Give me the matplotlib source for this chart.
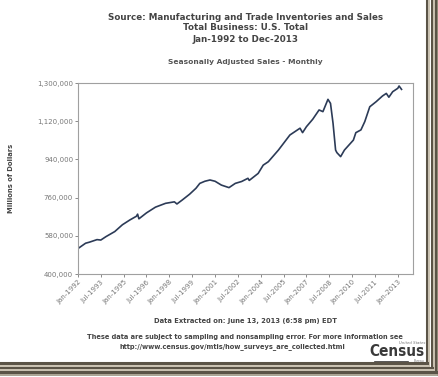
import pandas as pd
import matplotlib
matplotlib.use("Agg")
import matplotlib.pyplot as plt
from matplotlib.ticker import FuncFormatter
from matplotlib.lines import Line2D

# values (millions of dollars)
months = ["1992-01", "1992-07", "1992-10", "1993-04", "1993-07", "1993-11",
          "1994-06", "1994-12", "1995-06", "1995-11", "1995-12", "1996-01",
          "1996-07", "1997-02", "1997-10", "1998-05", "1998-07", "1998-11",
          "1999-05", "1999-10", "2000-01", "2000-05", "2000-09", "2001-01",
          "2001-06", "2001-12", "2002-05", "2002-10", "2003-03", "2003-04",
          "2003-11", "2004-03", "2004-07", "2005-03", "2005-12", "2006-08",
          "2006-10", "2007-01", "2007-06", "2007-11", "2008-02", "2008-06",
          "2008-08", "2008-10", "2008-12", "2009-01", "2009-04", "2009-07",
          "2010-02", "2010-04", "2010-08", "2010-11", "2011-03", "2011-08",
          "2012-01", "2012-04", "2012-06", "2012-09", "2013-01", "2013-02",
          "2013-04"]
sales = [520000, 545000, 550000, 562000, 560000, 576000,
         600000, 632000, 655000, 672000, 682000, 660000,
         688000, 715000, 733000, 740000, 730000, 748000,
         776000, 804000, 827000, 837000, 843000, 837000,
         819000, 807000, 827000, 836000, 851000, 841000,
         874000, 913000, 929000, 984000, 1055000, 1087000,
         1066000, 1094000, 1129000, 1173000, 1165000, 1223000,
         1204000, 1110000, 984000, 972000, 953000, 984000,
         1031000, 1066000, 1079000, 1118000, 1188000, 1212000,
         1239000, 1251000, 1233000, 1259000, 1275000, 1286000,
         1270000]

y_ticks = [400000, 580000, 760000, 940000, 1120000, 1300000]
x_tick_labels = ["Jan-1992", "Jul-1993", "Jan-1995", "Jul-1996", "Jan-1998",
                 "Jul-1999", "Jan-2001", "Jul-2002", "Jan-2004", "Jul-2005",
                 "Jan-2007", "Jul-2008", "Jan-2010", "Jul-2011", "Jan-2013"]

dates = pd.to_datetime(months)
tick_dates = pd.to_datetime(x_tick_labels, format="%b-%Y")

W, H = 439, 377
fig = plt.figure(figsize=(W / 100, H / 100), dpi=100)
fig.patch.set_facecolor("white")
plt.rcParams['font.family'] = ['DejaVu Sans']

txt = "#444444"
ax = fig.add_axes([78 / W, 1 - 274 / H, (413 - 78) / W, (274 - 83) / H])
ax.plot(dates, sales, color="#2c3b57", linewidth=1.2)
ax.set_ylim(400000, 1300000)
ax.set_xlim(pd.Timestamp("1992-01-01"), pd.Timestamp("2014-01-01"))
ax.set_yticks(y_ticks)
ax.yaxis.set_major_formatter(FuncFormatter(lambda v, p: f"{int(v):,}"))
ax.set_xticks(tick_dates)
ax.set_xticklabels(x_tick_labels, rotation=45, ha="right", rotation_mode="anchor")
ax.tick_params(axis="both", labelsize=5.0, colors="#777777", length=2, width=0.6, pad=1.5)
for sp in ax.spines.values():
    sp.set_color("#a0a0a0")
    sp.set_linewidth(0.8)
ax.set_ylabel("Millions of Dollars", fontsize=4.9, fontweight="bold", color=txt)
ax.yaxis.set_label_coords(-0.19, 0.5)

def ftext(x, y, s, **kw):
    fig.text(x / W, 1 - y / H, s, **kw)

title_kw = dict(ha="center", va="center", fontsize=6.3, fontweight="bold", color=txt)
ftext(245.5, 17, "Source: Manufacturing and Trade Inventories and Sales", **title_kw)
ftext(245.5, 28, "Total Business: U.S. Total", **title_kw)
ftext(245.5, 39, "Jan-1992 to Dec-2013", **title_kw)
ftext(245.5, 62, "Seasonally Adjusted Sales - Monthly", ha="center", va="center",
      fontsize=5.4, fontweight="bold", color="#555555")

ftext(246, 321, "Data Extracted on: June 13, 2013 (6:58 pm) EDT", ha="center",
      va="center", fontsize=4.9, fontweight="bold", color=txt)
ftext(245, 337, "These data are subject to sampling and nonsampling error. For more information see",
      ha="center", va="center", fontsize=4.8, fontweight="bold", color=txt)
ftext(232, 346.5, "http://www.census.gov/mtis/how_surveys_are_collected.html",
      ha="center", va="center", fontsize=4.8, fontweight="bold", color=txt)

# census logo
ftext(425, 342.5, "United States", ha="right", va="center", fontsize=2.8, style="italic", color="#777777")
ftext(425, 351, "Census", ha="right", va="center", fontsize=11, fontweight="bold",
      color="#3a3a3a", stretch="condensed")
fig.add_artist(Line2D([375 / W, 408 / W], [1 - 361.5 / H] * 2, color="#3a3a3a", linewidth=1.2))
ftext(424, 361, "Bureau", ha="right", va="center", fontsize=2.2, color="#777777")

# picture-frame border on right and bottom
stripes = [(427.0, "#5b5447", 2.2), (429.5, "#cbc3b2", 1.4), (431.8, "#5b5447", 2.2),
           (434.2, "#cbc3b2", 1.4), (436.3, "#5b5447", 2.2), (438.5, "#9c9482", 1.2)]
for x, c, lw in stripes:
    fig.add_artist(Line2D([x / W, x / W], [1 - (363 + (x - 427)) / H, 1.0], color=c, linewidth=lw))
for x, c, lw in stripes:
    y = 363 + (x - 427)
    fig.add_artist(Line2D([0, x / W], [1 - y / H] * 2, color=c, linewidth=lw))

fig.savefig("out.png", dpi=100, facecolor="white")
